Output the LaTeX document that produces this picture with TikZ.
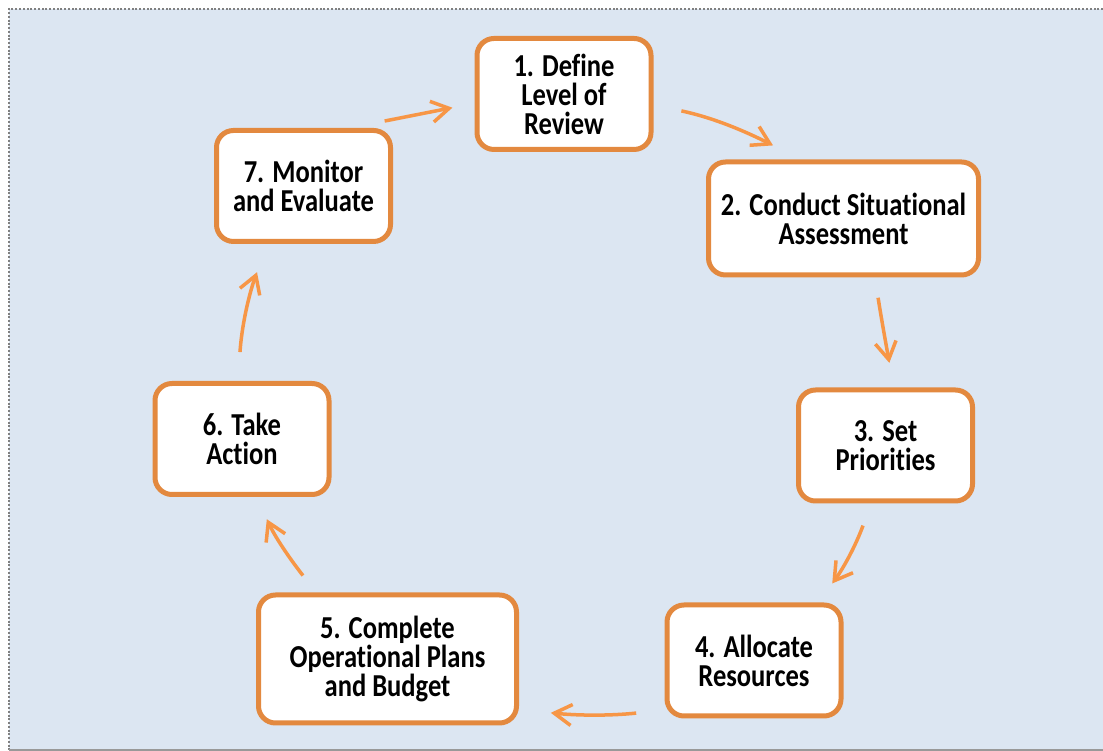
\documentclass[tikz,border=0pt]{standalone}
\usepackage{fontspec}
\newfontfamily\stagefont{Carlito}[FakeStretch=0.83, Ligatures=NoCommon]
\usepackage{xcolor}
\usepackage{tikz}
\usetikzlibrary{arrows.meta}

\definecolor{stageorange}{HTML}{E3893F}
\definecolor{arroworange}{HTML}{F79646}
\definecolor{panelblue}{HTML}{DCE6F2}

\begin{document}
\begin{tikzpicture}[
    stage/.style={draw=stageorange, line width=0.1cm, fill=white, rounded corners=0.34cm,
        minimum width=3.48cm, minimum height=2.22cm, align=center, inner sep=2pt,
        font=\stagefont\bfseries\fontsize{18.2}{16.5}\selectfont},
    cyc/.style={draw=arroworange, line width=0.07cm, -{Straight Barb[length=0.35cm,width=0.42cm]}}
]
    \useasboundingbox (0,0) rectangle (22.06,15.02);

    % panel behind the cycle
    \fill[panelblue] (0.18,0.02) rectangle (22.06,14.84);
    \draw[gray, densely dotted, line width=0.04cm] (22.06,14.84) -- (0.18,14.84) -- (0.18,0.02);
    \draw[gray!80, line width=0.04cm] (0.18,0.02) -- (22.06,0.02);

    % the seven stages
    \node[stage] (define) at (11.28,13.14) {1. Define\\Level of\\Review};
    \node[stage, minimum width=5.40cm, minimum height=2.26cm] (assess) at (16.87,10.65) {2. Conduct Situational\\Assessment};
    \node[stage] (priorities) at (17.71,6.11) {3. Set\\Priorities};
    \node[stage] (allocate) at (15.08,1.81) {4. Allocate\\Resources};
    \node[stage, minimum width=5.16cm, minimum height=2.56cm] (plans) at (7.75,1.84) {5. Complete\\Operational Plans\\and Budget};
    \node[stage] (action) at (4.84,6.24) {6. Take\\Action};
    \node[stage] (monitor) at (6.07,11.30) {7. Monitor\\and Evaluate};

    % arrows round the cycle
    \draw[cyc, shorten <=0.57cm, shorten >=0.62cm] (define.-7.5) to[out=-12, in=153] (assess.126.8);
    \draw[cyc, shorten <=0.41cm, shorten >=0.5cm] (assess.-62) to[out=-81, in=100] (priorities.82);
    \draw[cyc, shorten <=0.47cm, shorten >=0.47cm] (priorities.-104.4) to[out=-110, in=54] (allocate.42.4);
    \draw[cyc, shorten <=0.57cm, shorten >=0.64cm] (allocate.-151.3) to[out=186, in=-6] (plans.-21);
    \draw[cyc, shorten <=0.43cm, shorten >=0.49cm] (plans.137.9) to[out=128, in=-65] (action.-76.7);
    \draw[cyc, shorten <=0.58cm, shorten >=0.6cm] (action.94) to[out=86, in=-110] (monitor.-122.3);
    \draw[cyc, shorten <=0.73cm, shorten >=0.45cm] (monitor.52.6) to[out=11, in=191] (define.186);
\end{tikzpicture}
\end{document}
